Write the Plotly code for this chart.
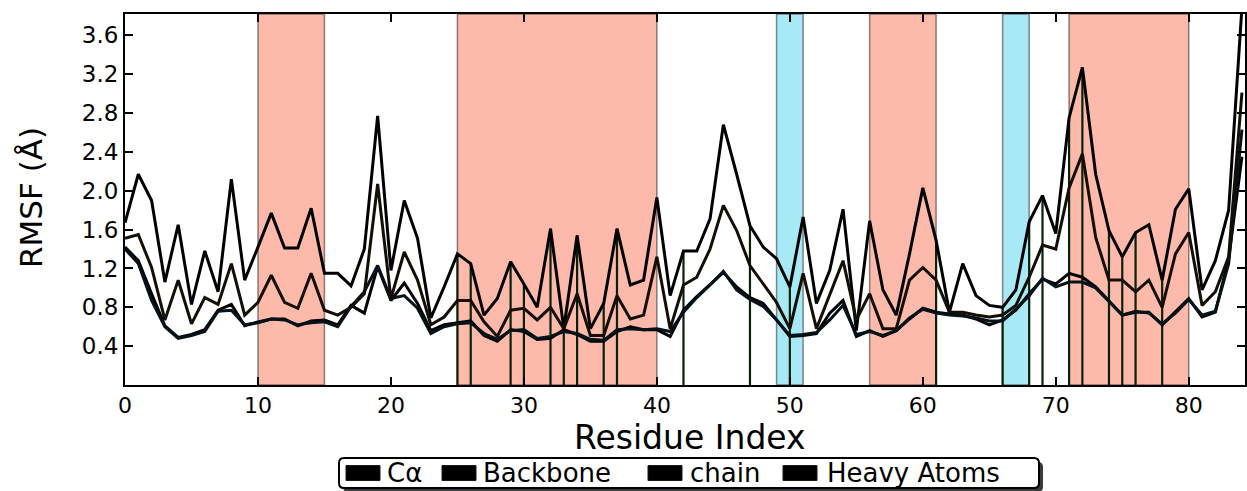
import plotly.graph_objects as go

residues = list(range(85))

ca = [1.42, 1.28, 0.94, 0.61, 0.49, 0.52, 0.57, 0.77, 0.83, 0.61,
      0.65, 0.68, 0.68, 0.61, 0.66, 0.67, 0.62, 0.82, 0.74, 1.22,
      0.87, 1.05, 0.84, 0.56, 0.62, 0.64, 0.66, 0.51, 0.45, 0.57,
      0.55, 0.47, 0.48, 0.57, 0.52, 0.45, 0.45, 0.55, 0.60, 0.57,
      0.57, 0.50, 0.77, 0.91, 1.04, 1.16, 1.01, 0.90, 0.84, 0.67,
      0.50, 0.51, 0.53, 0.74, 0.87, 0.50, 0.56, 0.50, 0.56, 0.68,
      0.79, 0.75, 0.73, 0.72, 0.68, 0.62, 0.67, 0.77, 0.94, 1.09,
      1.04, 1.15, 1.11, 1.01, 0.86, 0.72, 0.75, 0.75, 0.62, 0.75,
      0.89, 0.70, 0.75, 1.30, 2.35]

backbone = [1.40, 1.25, 0.87, 0.60, 0.48, 0.51, 0.55, 0.76, 0.77, 0.62,
            0.64, 0.68, 0.67, 0.62, 0.64, 0.65, 0.60, 0.81, 0.96, 1.23,
            0.89, 0.92, 0.79, 0.53, 0.60, 0.63, 0.64, 0.53, 0.47, 0.56,
            0.57, 0.48, 0.50, 0.55, 0.53, 0.47, 0.46, 0.57, 0.58, 0.57,
            0.58, 0.55, 0.75, 0.90, 1.03, 1.17, 0.98, 0.88, 0.81, 0.67,
            0.51, 0.52, 0.54, 0.67, 0.82, 0.52, 0.55, 0.51, 0.56, 0.69,
            0.78, 0.74, 0.72, 0.71, 0.69, 0.66, 0.66, 0.78, 0.92, 1.10,
            1.01, 1.06, 1.06, 1.00, 0.86, 0.72, 0.76, 0.74, 0.63, 0.74,
            0.88, 0.72, 0.76, 1.25, 2.63]

chain = [1.67, 2.17, 1.90, 1.06, 1.65, 0.83, 1.38, 0.96, 2.12, 1.08,
         1.42, 1.77, 1.41, 1.41, 1.82, 1.15, 1.15, 1.02, 1.40, 2.77,
         1.18, 1.90, 1.51, 0.69, 1.01, 1.35, 1.25, 0.72, 0.89, 1.27,
         1.04, 0.80, 1.61, 0.58, 1.54, 0.58, 0.84, 1.61, 1.03, 1.08,
         1.93, 0.92, 1.38, 1.38, 1.71, 2.68, 2.17, 1.64, 1.42, 1.30,
         1.01, 1.73, 0.84, 1.18, 1.81, 0.56, 1.69, 0.98, 0.72, 1.35,
         2.03, 1.49, 0.75, 1.25, 0.92, 0.82, 0.80, 0.98, 1.68, 1.95,
         1.56, 2.75, 3.27, 2.17, 1.59, 1.32, 1.57, 1.65, 1.08, 1.81,
         2.02, 0.98, 1.28, 1.80, 3.89]

heavy = [1.51, 1.55, 1.21, 0.67, 1.08, 0.63, 0.90, 0.83, 1.25, 0.72,
         0.85, 1.13, 0.85, 0.79, 1.15, 0.77, 0.72, 0.80, 0.94, 2.07,
         0.89, 1.37, 1.08, 0.62, 0.70, 0.87, 0.87, 0.65, 0.50, 0.77,
         0.79, 0.67, 0.80, 0.58, 0.94, 0.51, 0.51, 0.92, 0.68, 0.72,
         1.32, 0.58, 1.03, 1.11, 1.40, 1.85, 1.59, 1.23, 1.04, 0.85,
         0.58, 1.15, 0.58, 0.94, 1.28, 0.67, 0.94, 0.58, 0.58, 1.08,
         1.21, 1.08, 0.75, 0.75, 0.72, 0.70, 0.72, 0.82, 1.11, 1.44,
         1.40, 2.03, 2.38, 1.52, 1.08, 1.08, 0.96, 1.08, 0.80, 1.35,
         1.57, 0.82, 0.96, 1.32, 3.01]

# residues where the side-chain RMSF drops to zero (glycines)
chain_zero_residues = [25, 26, 29, 30, 32, 33, 34, 36, 37, 42, 47, 50,
                       61, 66, 68, 69, 71, 72, 74, 75, 76, 78]

helix_ranges = [(10, 15), (25, 40), (56, 61), (71, 80)]
strand_ranges = [(49, 51), (66, 68)]

series_names = ["Cα", "Backbone", "chain", "Heavy Atoms"]

xticks = [0, 10, 20, 30, 40, 50, 60, 70, 80]
yticks = [0.4, 0.8, 1.2, 1.6, 2.0, 2.4, 2.8, 3.2, 3.6]

FONT = "DejaVu Sans"
W, H = 1247, 491
ML, MR, MT, MB = 125, 2, 14, 106
PW, PH = W - ML - MR, H - MT - MB


def px_x(px):  # figure pixel -> paper x
    return (px - ML) / PW


def px_y(py):  # figure pixel -> paper y
    return (H - MB - py) / PH


fig = go.Figure()

# glycine drop lines
drop_x, drop_y = [], []
for r in chain_zero_residues:
    drop_x += [r, r, None]
    drop_y += [0, chain[r], None]
fig.add_trace(go.Scatter(x=drop_x, y=drop_y, mode="lines",
                         line=dict(color="#082008", width=2.2),
                         showlegend=False, hoverinfo="skip"))

series = [
    (series_names[0], ca, "#000000"),
    (series_names[1], backbone, "#04121a"),
    (series_names[2], chain, "#000000"),
    (series_names[3], heavy, "#140e05"),
]
for name, vals, col in series:
    fig.add_trace(go.Scatter(x=residues, y=vals, mode="lines", name=name,
                             line=dict(color=col, width=3),
                             showlegend=False))

shapes = []
for a, b in helix_ranges:
    shapes.append(dict(type="rect", xref="x", yref="paper", x0=a, x1=b, y0=0, y1=1,
                       fillcolor="#FDB9A9", line=dict(color="rgba(0,0,0,0.45)", width=1.5),
                       layer="below"))
for a, b in strand_ranges:
    shapes.append(dict(type="rect", xref="x", yref="paper", x0=a, x1=b, y0=0, y1=1,
                       fillcolor="#A8E9F6", line=dict(color="rgba(0,0,0,0.45)", width=1.5),
                       layer="below"))


def rounded_box(x0, y0, x1, y1, r):
    """Rounded rectangle path in paper coords from pixel box."""
    X0, X1 = px_x(x0), px_x(x1)
    Y0, Y1 = px_y(y0), px_y(y1)   # Y0 top, Y1 bottom
    rx, ry = r / PW, r / PH
    return (f"M{X0+rx},{Y0} L{X1-rx},{Y0} Q{X1},{Y0} {X1},{Y0-ry} "
            f"L{X1},{Y1+ry} Q{X1},{Y1} {X1-rx},{Y1} L{X0+rx},{Y1} "
            f"Q{X0},{Y1} {X0},{Y1+ry} L{X0},{Y0-ry} Q{X0},{Y0} {X0+rx},{Y0} Z")


# legend frame with shadow
box = (339, 458, 1039, 488)
shapes.append(dict(type="path", xref="paper", yref="paper",
                   path=rounded_box(box[0] + 4, box[1] + 4, box[2] + 4, box[3] + 4, 5),
                   fillcolor="#3a3a3a", line=dict(width=0), layer="above"))
shapes.append(dict(type="path", xref="paper", yref="paper",
                   path=rounded_box(*box, 5),
                   fillcolor="white", line=dict(color="black", width=2), layer="above"))

patch_left = [346, 442, 648, 783]
text_left = [385, 481, 688, 825]
legend_mid = 473
annotations = []
for name, pl, tl in zip(series_names, patch_left, text_left):
    shapes.append(dict(type="rect", xref="paper", yref="paper",
                       x0=px_x(pl), x1=px_x(pl + 34), y0=px_y(legend_mid - 7.5), y1=px_y(legend_mid + 7.5),
                       fillcolor="black", line=dict(color="#1a1a10", width=1), layer="above"))
    annotations.append(dict(text=name, xref="paper", yref="paper", x=px_x(tl), y=px_y(legend_mid),
                            xanchor="left", yanchor="middle", showarrow=False,
                            font=dict(family=FONT, size=26, color="black")))

# axis titles
annotations.append(dict(text="Residue Index", xref="paper", yref="paper",
                        x=px_x(690), y=px_y(437), xanchor="center", yanchor="middle",
                        showarrow=False, font=dict(family=FONT, size=33, color="black")))
annotations.append(dict(text="RMSF (Å)", xref="paper", yref="paper", textangle=-90,
                        x=px_x(31), y=px_y(198), xanchor="center", yanchor="middle",
                        showarrow=False, font=dict(family=FONT, size=31, color="black")))

fig.update_layout(
    width=W, height=H,
    margin=dict(l=ML, r=MR, t=MT, b=MB, autoexpand=False),
    paper_bgcolor="white", plot_bgcolor="white",
    font=dict(family=FONT, color="black"),
    shapes=shapes, annotations=annotations,
    showlegend=False,
)
fig.update_xaxes(range=[0, 84.23], tickvals=xticks, ticktext=[str(t) for t in xticks],
                 ticks="inside", ticklen=8, tickwidth=1.5, tickcolor="black",
                 showline=True, linewidth=2, linecolor="black", mirror="allticks",
                 showgrid=False, zeroline=False, automargin=False,
                 tickfont=dict(family=FONT, size=22))
fig.update_yaxes(range=[0, 3.82], tickvals=yticks, ticktext=[f"{t:.1f}" for t in yticks],
                 ticks="inside", ticklen=8, tickwidth=1.5, tickcolor="black",
                 showline=True, linewidth=2, linecolor="black", mirror="allticks",
                 showgrid=False, zeroline=False, automargin=False,
                 tickfont=dict(family=FONT, size=23))

fig.write_html("out.html", config={"displayModeBar": False},
               post_script="document.body.style.margin='0';")
